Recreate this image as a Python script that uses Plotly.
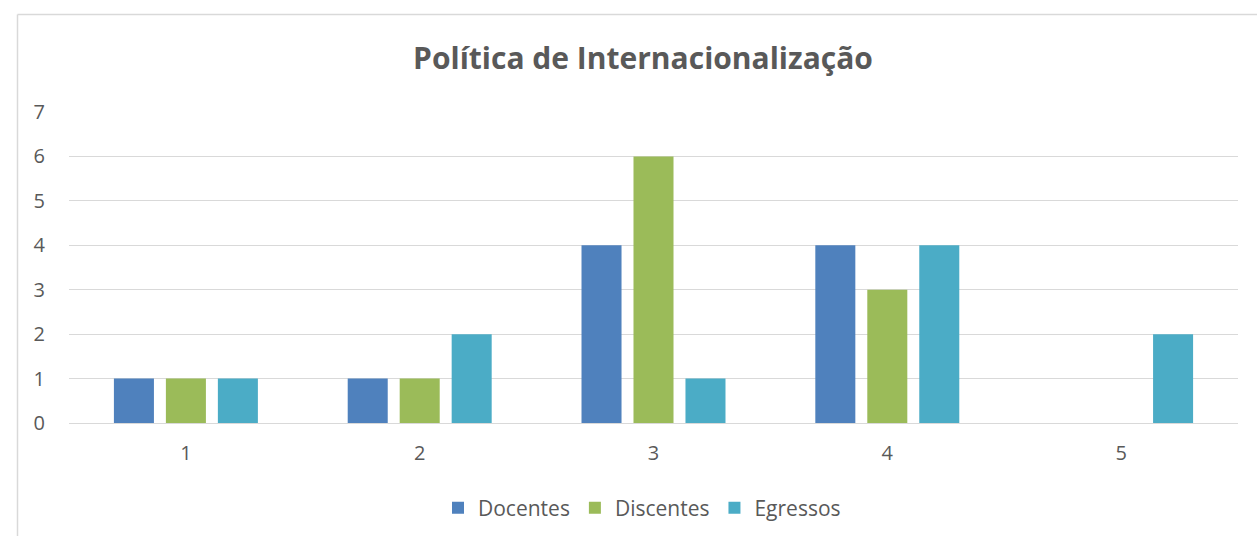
import plotly.graph_objects as go

categories = ["1", "2", "3", "4", "5"]
docentes = [1, 1, 4, 4, 0]
discentes = [1, 1, 6, 3, 0]
egressos = [1, 2, 1, 4, 2]

W, H = 1257, 536
ML, MR, MT, MB = 69, 19, 112, 113
PW, PH = W - ML - MR, H - MT - MB

def px_x(px):
    return (px - ML) / PW

def px_y(py):
    return (H - MB - py) / PH

text_color = "#595959"
font = "Open Sans"

fig = go.Figure()
fig.add_bar(name="Docentes", x=categories, y=docentes, marker_color="#4F81BD")
fig.add_bar(name="Discentes", x=categories, y=discentes, marker_color="#9BBB59")
fig.add_bar(name="Egressos", x=categories, y=egressos, marker_color="#4BACC6")

fig.update_traces(marker_line_width=0)

fig.update_layout(
    width=W, height=H,
    margin=dict(l=ML, r=MR, t=MT, b=MB, autoexpand=False),
    paper_bgcolor="white", plot_bgcolor="white",
    barmode="group", bargap=0.333, bargroupgap=0.23,
    title=dict(
        text="<b>Política de Internacionalização</b>",
        x=px_x(643), xref="paper", xanchor="center",
        y=1 - 58 / H, yanchor="middle",
        font=dict(family=font, size=30, color=text_color),
    ),
    font=dict(family=font, size=20, color=text_color),
    showlegend=True,
    legend=dict(
        orientation="h", x=px_x(642), xanchor="center",
        y=px_y(508), yanchor="middle",
        font=dict(size=21, color=text_color),
        itemsizing="constant",
    ),
    xaxis=dict(showgrid=False, showline=False, ticks="", zeroline=False,
               automargin=False, ticklabelstandoff=16,
               tickfont=dict(size=20, color=text_color)),
    yaxis=dict(range=[0, 7], dtick=1, showgrid=True, gridcolor="#D9D9D9",
               gridwidth=1, zeroline=True, zerolinecolor="#D9D9D9",
               zerolinewidth=1, showline=False, ticks="", automargin=False,
               ticklabelstandoff=23,
               tickfont=dict(size=20, color=text_color)),
)

# Chart frame edges (left and top)
fig.add_shape(type="line", xref="paper", yref="paper",
              x0=px_x(17.5), x1=px_x(17.5), y0=px_y(H + 5), y1=px_y(14.5),
              line=dict(color="#D9D9D9", width=1.5))
fig.add_shape(type="line", xref="paper", yref="paper",
              x0=px_x(17.5), x1=px_x(W + 5), y0=px_y(14.5), y1=px_y(14.5),
              line=dict(color="#D9D9D9", width=1.5))

fig.write_html("out.html")
